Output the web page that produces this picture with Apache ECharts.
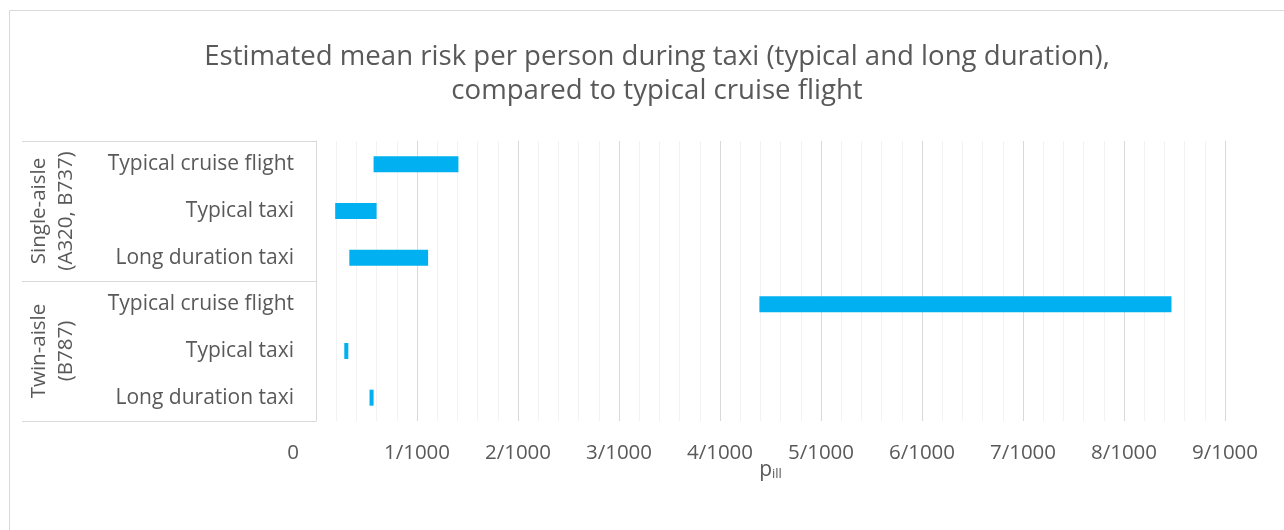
<!DOCTYPE html>
<html>
<head>
<meta charset="utf-8">
<script src="https://cdn.jsdelivr.net/npm/echarts@6/dist/echarts.min.js"></script>
<style>
html,body{margin:0;padding:0;background:#fff;}
#chart{width:1284px;height:530px;}
</style>
</head>
<body>
<div id="chart"></div>
<script>
// Categories (top to bottom)
const categories = ["Typical cruise flight", "Typical taxi", "Long duration taxi",
                    "Typical cruise flight", "Typical taxi", "Long duration taxi"];
const groups = ["Single-aisle\n(A320, B737)", "Twin-aisle\n(B787)"];
// Risk range, in units of 1/1000
const riskLowPer1000  = [0.57, 0.19, 0.33, 4.39, 0.28, 0.53];
const riskHighPer1000 = [1.41, 0.60, 1.11, 8.47, 0.32, 0.57];
const xTicksPer1000 = [0, 1, 2, 3, 4, 5, 6, 7, 8, 9];

const FONT = '"Open Sans"';
const TXT = '#595959';
const chart = echarts.init(document.getElementById('chart'), null, {renderer: 'canvas'});

const rangeLen = riskHighPer1000.map((h, i) => +(h - riskLowPer1000[i]).toFixed(4));

chart.setOption({
  animation: false,
  textStyle: {fontFamily: FONT},
  title: {
    text: 'Estimated mean risk per person during taxi (typical and long duration),\ncompared to typical cruise flight',
    left: 652, top: 35, textAlign: 'center',
    textStyle: {fontFamily: FONT, fontSize: 27.6, fontWeight: 'normal', color: TXT, lineHeight: 34}
  },
  graphic: [{
    type: 'rect', silent: true,
    shape: {x: 9.5, y: 10.5, width: 1400, height: 700},
    style: {fill: 'none', stroke: '#d9d9d9', lineWidth: 1}
  }],
  grid: {left: 316, right: 59, top: 141, bottom: 109, containLabel: false},
  xAxis: {
    type: 'value', min: xTicksPer1000[0], max: xTicksPer1000[xTicksPer1000.length - 1], interval: 1,
    axisLine: {show: false}, axisTick: {show: false},
    splitLine: {show: true, lineStyle: {color: '#d9d9d9', width: 1}},
    minorTick: {show: false, splitNumber: 5},
    minorSplitLine: {show: true, lineStyle: {color: '#f2f2f2', width: 1}},
    axisLabel: {
      color: TXT, fontSize: 20.5, fontFamily: FONT, margin: 22,
      formatter: v => v === 0 ? '{z|0}' : Math.round(v) + '/1000',
      rich: {z: {fontSize: 20.5, fontFamily: FONT, color: TXT, padding: [0, 46, 0, 0]}}
    },
    name: '{p|p}{s|ill}', nameLocation: 'middle', nameGap: 34, nameMoveOverlap: false,
    nameTextStyle: {
      rich: {
        p: {fontSize: 21, fontFamily: FONT, color: TXT, verticalAlign: 'bottom', lineHeight: 26},
        s: {fontSize: 13, fontFamily: FONT, color: TXT, verticalAlign: 'bottom', lineHeight: 20}
      }
    }
  },
  yAxis: [{
    type: 'category', data: categories, inverse: true,
    axisLine: {show: true, lineStyle: {color: '#d9d9d9'}},
    axisTick: {show: false},
    axisLabel: {color: TXT, fontSize: 21, fontFamily: FONT, margin: 22, interval: 0}
  }, {
    type: 'category', data: groups, inverse: true, position: 'left',
    axisLine: {show: false},
    axisTick: {show: true, interval: 0, length: 294, lineStyle: {color: '#d9d9d9'}},
    axisLabel: {color: TXT, fontSize: 20.5, fontFamily: FONT, rotate: 90, margin: 263, interval: 0,
      align: 'center', verticalAlign: 'middle', lineHeight: 27}
  }],
  series: [{
    type: 'bar', stack: 'r', data: riskLowPer1000, barWidth: 16,
    itemStyle: {color: 'rgba(0,0,0,0)'}, silent: true
  }, {
    type: 'bar', stack: 'r', data: rangeLen, barWidth: 16,
    itemStyle: {color: '#00B0F0'}
  }]
});
</script>
</body>
</html>
